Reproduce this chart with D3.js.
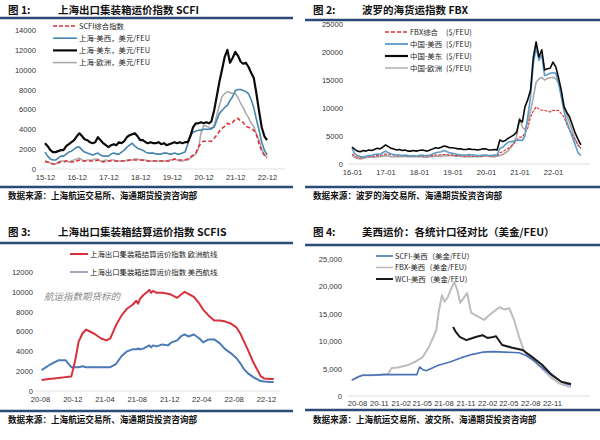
<!DOCTYPE html>
<html><head><meta charset="utf-8">
<script src="https://cdn.jsdelivr.net/npm/d3@7"></script>
<style>
body{margin:0;background:#fff;}
svg{display:block;font-family:"Noto Sans CJK SC","Noto Sans",sans-serif;}
.title{font-size:10.5px;font-weight:700;fill:#111;}
.src{font-size:8.6px;font-weight:700;fill:#111;}
.leg{font-size:7.4px;fill:#222;}
.tick text{font-family:"Liberation Sans",Arial,sans-serif;font-size:7.6px;fill:#333;}
</style></head><body>
<svg id="c" width="600" height="440"></svg>
<script>
// ---------- Panel 1: SCFI (monthly, 2015-12 .. 2022-12) ----------
const p1Start = "2015-12-01", p1StopExcl = "2023-01-01";
const p1XTicks = ["2015-12-01","2016-12-01","2017-12-01","2018-12-01","2019-12-01","2020-12-01","2021-12-01","2022-12-01"];
const p1XLabels = ["15-12","16-12","17-12","18-12","19-12","20-12","21-12","22-12"];
const p1YTicks = [0,2000,4000,6000,8000,10000,12000,14000];
const p1Composite = [700, 700,600,500,500,600,700,700,800,800,700,700,800, 900,800,800,800,800,800,800,900,800,700,800,800, 800,800,800,800,800,800,800,900,900,900,900,900, 900,800,800,800,800,800,800,800,800,800,800,900, 1000,900,900,900,900,1000,1200,1400,1600,2200,2600,2800, 2800,2800,2800,3100,3400,3800,4100,4300,4600,4500,4700,5000, 5100,4800,4700,4300,4200,4100,3900,3500,2500,1800,1400,1100];
const p1USWest = [1700, 1300,1000,900,900,1100,1300,1300,1500,1700,1800,2000,2200, 2200,1900,1700,1600,1500,1400,1500,1600,1400,1300,1300,1300, 1500,1600,1500,1500,1700,1900,2200,2400,2600,2300,2100,2000, 1900,1700,1600,1600,1600,1500,1500,1500,1600,1600,1500,1500, 1600,1500,1500,1600,1700,2500,3300,3700,3800,3900,3900,4000, 4000,4000,4100,4200,4900,5600,5900,6200,6400,6900,7300,7900, 8000,8000,7900,7800,7600,7000,6200,5000,3900,2700,1900,1400];
const p1USEast = [2600, 2300,1900,1700,1700,1800,1900,1900,2300,2500,2700,2900,3300, 3600,3300,3000,2900,2700,2600,2700,3200,2900,2600,2400,2200, 2400,2500,2400,2700,2600,2800,3200,3400,3500,3600,3300,2900, 2900,2700,2600,2700,2600,2600,2700,2500,2600,2400,2500,2600, 2700,2600,2700,2600,2700,2700,3300,4200,4600,4600,4700,4600, 4700,4600,4800,5900,7300,8800,10000,11300,12000,10700,11200,11800, 11400,10800,10600,10700,10300,9700,9200,7600,5800,4200,3300,2900];
const p1Europe = [900, 700,600,500,500,700,800,800,800,700,800,900,1000, 1100,900,800,900,900,900,1000,1000,800,800,900,800, 900,900,800,800,800,800,900,900,900,1000,1000,900, 900,900,800,800,800,800,800,800,800,800,900,900, 1000,900,800,800,900,900,1100,1300,1500,2000,3600,4400, 4300,4200,4000,4400,5400,6400,7300,7600,7800,7700,7600,7600, 7200,6600,6200,5600,5200,4600,4300,3500,2900,2000,1400,1200];

// ---------- Panel 2: FBX (monthly, 2016-01 .. 2022-11) ----------
const p2Start = "2016-01-01", p2StopExcl = "2022-12-01";
const p2XTicks = ["2016-01-01","2017-01-01","2018-01-01","2019-01-01","2020-01-01","2021-01-01","2022-01-01"];
const p2XLabels = ["16-01","17-01","18-01","19-01","20-01","21-01","22-01"];
const p2YTicks = [0,5000,10000,15000,20000,25000];
const p2Composite = [1800,1400,1200,1100,1200,1300,1300,1400,1400,1500,1500,1600, 1800,1700,1600,1600,1500,1500,1500,1500,1400,1400,1400,1400, 1400,1400,1400,1400,1500,1500,1600,1600,1700,1700,1700,1600, 1600,1500,1500,1500,1400,1400,1500,1400,1400,1400,1400,1400, 1500,1400,1400,1500,1500,2000,2200,2500,2800,3200,3700,4300, 4800,4800,5500,6400,8400,9500,10200,9800,9600,9600,9400,9300, 9600,9500,9600,9000,8400,7000,6100,5200,4300,3400,2700];
const p2USWest = [2800,1800,1500,1300,1300,1400,1500,1500,1700,1800,1700,2000, 2300,2000,1800,1700,1600,1600,1500,1600,1500,1400,1500,1400, 1500,1600,1500,1500,1600,1800,2000,2100,2200,2400,2200,2000, 1900,1800,1700,1600,1600,1600,1700,1600,1600,1500,1500,1600, 1600,1500,1500,1600,1600,2800,3000,3500,3900,4000,4100,4200, 4300,4200,5000,8500,12000,18000,20800,18500,19500,15800,16000,16200, 16300,16200,14500,12000,9500,7500,6100,4800,3400,2000,1500];
const p2USEast = [3000,2600,2300,2200,2400,2300,2500,2400,2600,2800,2700,3000, 3400,3100,2800,2700,2500,2600,2400,2500,2300,2300,2400,2300, 2400,2500,2400,2300,2500,2700,2900,2800,3000,3200,3100,2900, 2900,2800,2700,2700,2600,2600,2700,2600,2600,2500,2600,2700, 2700,2500,2500,2600,2500,4300,4000,4200,4600,4900,5200,5700, 7900,7500,10200,11500,13200,19100,21800,19100,20400,16800,17000,17100, 18200,17300,15500,13200,10200,9200,8400,6900,5500,4400,3400];
const p2Europe = [1500,1200,1000,900,1000,1100,1200,1200,1200,1300,1300,1400, 1500,1400,1300,1300,1300,1300,1300,1400,1300,1300,1300,1300, 1300,1300,1200,1200,1300,1300,1400,1400,1400,1500,1500,1500, 1500,1400,1400,1400,1300,1300,1300,1300,1300,1300,1300,1400, 1500,1400,1300,1300,1400,1500,1700,2000,2400,3000,3800,5000, 8200,6600,6100,7500,9500,12000,14600,15200,15500,15000,15300,15400, 15500,15200,14500,12700,10500,8800,7300,5800,4300,3400,2800];

// ---------- Panel 3: SCFIS ----------
const p3Dates = ["2020-08-07","2020-09-04","2020-10-09","2020-11-06","2020-11-27","2020-12-11","2020-12-25","2021-01-08","2021-01-22","2021-02-05","2021-02-26","2021-03-19","2021-04-09","2021-04-23","2021-05-14","2021-06-04","2021-06-25","2021-07-16","2021-07-30","2021-08-06","2021-08-13","2021-08-27","2021-09-10","2021-09-17","2021-09-24","2021-10-01","2021-10-15","2021-11-05","2021-11-26","2021-12-10","2021-12-31","2022-01-14","2022-01-28","2022-02-11","2022-03-04","2022-03-25","2022-04-08","2022-04-29","2022-05-20","2022-06-10","2022-07-01","2022-07-22","2022-08-12","2022-08-26","2022-09-09","2022-09-23","2022-10-14","2022-10-28","2022-11-11","2022-11-25","2022-12-16","2022-12-30"];
const p3Europe = [1100,1200,1300,1400,1450,3000,5000,5800,6200,6000,5700,5300,5100,5300,6600,7600,8300,8700,9100,8800,9300,9700,10000,10200,9900,10100,9900,9900,9800,9700,9400,9700,10000,9800,9500,8800,8200,7600,7100,7100,7000,6800,6400,5800,5000,4200,2900,2200,1500,1250,1200,1200];
const p3USWest = [2100,2600,3100,3100,2400,2400,2400,2500,2400,2400,2400,2400,2400,2400,2700,3500,4000,4200,4200,4300,4200,4300,4500,4600,4400,4600,4500,4700,4600,4900,5100,5500,5700,5500,5700,5300,4900,5200,5200,4800,4200,3800,3300,2800,2200,1800,1400,1200,1000,950,900,900];
const p3XTicks = ["2020-08-01","2020-12-01","2021-04-01","2021-08-01","2021-12-01","2022-04-01","2022-08-01","2022-12-01"];
const p3XLabels = ["20-08","20-12","21-04","21-08","21-12","22-04","22-08","22-12"];
const p3YTicks = [0,2000,4000,6000,8000,10000,12000];

// ---------- Panel 4: US West comparison ----------
const p4ScfiDates = ["2020-07-10","2020-08-07","2020-08-25","2020-10-01","2020-11-15","2020-12-25","2021-02-10","2021-03-20","2021-04-10","2021-04-22","2021-05-05","2021-05-20","2021-06-10","2021-07-10","2021-08-28","2021-10-15","2021-12-01","2022-01-12","2022-03-01","2022-04-15","2022-06-15","2022-07-15","2022-08-10","2022-09-05","2022-10-18","2022-11-30","2022-12-25","2023-01-20"];
const p4ScfiValues = [2900,3500,3800,3800,3900,3900,3900,3900,3900,5300,4800,4600,5000,5600,6200,7000,7600,8000,8100,8000,7900,7400,6700,5700,4200,2900,2300,2000];
const p4FbxDates = ["2020-07-10","2020-08-07","2020-08-25","2020-10-01","2020-11-15","2020-12-10","2020-12-25","2021-01-20","2021-03-01","2021-04-01","2021-05-05","2021-06-01","2021-07-01","2021-07-12","2021-07-25","2021-08-05","2021-08-18","2021-09-05","2021-09-15","2021-09-28","2021-10-10","2021-10-25","2021-11-08","2021-11-25","2021-12-10","2021-12-28","2022-01-20","2022-02-05","2022-02-25","2022-03-25","2022-04-15","2022-05-05","2022-05-25","2022-06-15","2022-07-05","2022-07-25","2022-08-15","2022-09-05","2022-10-01","2022-10-30","2022-12-01","2023-01-20"];
const p4FbxValues = [2900,3500,3800,3800,3900,4000,5100,5200,5600,6200,7100,9000,12000,15500,18400,17200,18000,19900,20800,19300,17000,17900,18800,15200,14800,14400,13900,14600,15300,16200,15800,16000,13900,10800,8400,7100,6500,5700,4500,3300,2300,1600];
const p4WciDates = ["2021-09-10","2021-09-20","2021-10-08","2021-11-05","2021-11-25","2021-12-18","2022-01-12","2022-02-02","2022-02-20","2022-03-10","2022-04-05","2022-05-18","2022-06-30","2022-08-10","2022-09-20","2022-10-30","2022-12-10","2023-01-20"];
const p4WciValues = [12600,11800,10800,10200,10500,10800,11100,10600,10700,10900,9300,8800,8400,7100,5700,3900,2600,2200];
const p4XTicks = ["2020-08-01","2020-11-01","2021-02-01","2021-05-01","2021-08-01","2021-11-01","2022-02-01","2022-05-01","2022-08-01","2022-11-01"];
const p4XLabels = ["20-08","20-11","21-02","21-05","21-08","21-11","22-02","22-05","22-08","22-11"];
const p4YTicks = [0,5000,10000,15000,20000,25000];

// ---------- drawing ----------
const svg = d3.select("#c");
const parse = d3.timeParse("%Y-%m-%d");
const RULE = "#2b4a78";
const p1Dates = d3.timeMonth.range(parse(p1Start), parse(p1StopExcl));
const p2Dates = d3.timeMonth.range(parse(p2Start), parse(p2StopExcl));

function drawPanel(c) {
  const g = svg.append("g");
  g.append("text").attr("class","title").attr("x", c.figX).attr("y", c.titleY).text(c.fig);
  g.append("text").attr("class","title").attr("x", c.titleX).attr("y", c.titleY).text(c.title);
  g.append("line").attr("x1", c.ruleX[0]).attr("x2", c.ruleX[1]).attr("y1", c.ruleTop).attr("y2", c.ruleTop)
    .attr("stroke", RULE).attr("stroke-width", 2.4);
  g.append("line").attr("x1", c.ruleX[0]).attr("x2", c.ruleX[1]).attr("y1", c.ruleBottom).attr("y2", c.ruleBottom)
    .attr("stroke", RULE).attr("stroke-width", 2.4);
  g.append("text").attr("class","src").attr("x", c.figX).attr("y", c.srcY).text(c.source);

  const x = d3.scaleTime().domain(c.xDomain.map(parse)).range(c.xRange);
  const y = d3.scaleLinear().domain(c.yDomain).range(c.yRange);

  g.append("line").attr("x1", c.plotX[0]).attr("x2", c.plotX[1])
    .attr("y1", y(0)).attr("y2", y(0)).attr("stroke", "#d9d9d9").attr("stroke-width", 0.8);

  const ya = g.append("g").attr("transform", `translate(${c.yAxisX},0)`)
    .call(d3.axisLeft(y).tickValues(c.yTicks).tickSize(0).tickPadding(2).tickFormat(c.yFormat || d3.format("d")));
  ya.select(".domain").remove();

  const xa = g.append("g").attr("transform", `translate(0,${y(0)})`)
    .call(d3.axisBottom(x).tickValues(c.xTicks.map(parse)).tickSize(0).tickPadding(c.xPad)
      .tickFormat((d, i) => c.xLabels[i]));
  xa.select(".domain").remove();

  c.series.forEach(s => {
    const pts = s.dates.map((d, i) => [d instanceof Date ? d : parse(d), s.values[i]]);
    const line = d3.line().x(p => x(p[0])).y(p => y(p[1]));
    g.append("path").attr("d", line(pts)).attr("fill", "none")
      .attr("stroke", s.color).attr("stroke-width", s.width)
      .attr("stroke-dasharray", s.dash || null).attr("stroke-linejoin", "round");
  });

  c.legend.forEach((l, i) => {
    const ly = c.legY + i * c.legDy;
    g.append("line").attr("x1", c.legX[0]).attr("x2", c.legX[1]).attr("y1", ly).attr("y2", ly)
      .attr("stroke", l.color).attr("stroke-width", l.width).attr("stroke-dasharray", l.dash || null);
    g.append("text").attr("class","leg").attr("x", c.legX[1] + 2).attr("y", ly + 2.6)
      .attr("font-size", c.legFont || null).text(l.label);
    if (l.suffix) g.append("text").attr("class","leg").attr("x", c.suffixX).attr("y", ly + 2.6)
      .attr("font-size", c.legFont || null).text(l.suffix);
  });
  return g;
}

const cRed = "#e0303a", cTeal = "#4584ad", cGray = "#ababab", cBlack = "#0a0a0a";

drawPanel({
  fig: "图 1:", title: "上海出口集装箱运价指数 SCFI", figX: 8, titleX: 58, titleY: 14,
  ruleX: [0, 293], ruleTop: 18, ruleBottom: 187, srcY: 199,
  source: "数据来源：上海航运交易所、海通期货投资咨询部",
  xDomain: ["2015-12-01", "2022-12-01"], xRange: [45, 267],
  yDomain: [0, 14000], yRange: [169, 30], plotX: [40, 285],
  yTicks: p1YTicks, yAxisX: 38, xTicks: p1XTicks, xLabels: p1XLabels, xPad: 6,
  series: [
    { dates: p1Dates, values: p1Europe, color: cGray, width: 1.6 },
    { dates: p1Dates, values: p1USWest, color: cTeal, width: 1.6 },
    { dates: p1Dates, values: p1Composite, color: cRed, width: 1.6, dash: "4,2.5" },
    { dates: p1Dates, values: p1USEast, color: cBlack, width: 2.2 }
  ],
  legX: [53, 77], legY: 26, legDy: 12.2,
  legend: [
    { label: "SCFI综合指数", color: cRed, width: 1.6, dash: "4,2" },
    { label: "上海-美西，美元/FEU", color: cTeal, width: 1.6 },
    { label: "上海-美东，美元/FEU", color: cBlack, width: 2.2 },
    { label: "上海-欧洲，美元/FEU", color: cGray, width: 1.6 }
  ]
});

drawPanel({
  fig: "图 2:", title: "波罗的海货运指数 FBX", figX: 313, titleX: 362, titleY: 14,
  ruleX: [305, 600], ruleTop: 20, ruleBottom: 187, srcY: 199,
  source: "数据来源：波罗的海交易所、海通期货投资咨询部",
  xDomain: ["2016-01-01", "2022-01-01"], xRange: [352, 553],
  yDomain: [0, 25000], yRange: [164, 24], plotX: [348, 590],
  yTicks: p2YTicks, yAxisX: 345, xTicks: p2XTicks, xLabels: p2XLabels, xPad: 6,
  series: [
    { dates: p2Dates, values: p2Europe, color: "#a8a8a8", width: 1.6 },
    { dates: p2Dates, values: p2Composite, color: "#e03030", width: 1.1, dash: "3,1.2" },
    { dates: p2Dates, values: p2USWest, color: "#5d9cc8", width: 1.6 },
    { dates: p2Dates, values: p2USEast, color: cBlack, width: 1.6 }
  ],
  legX: [385, 408], legY: 32, legDy: 12, suffixX: 446, legFont: 7,
  legend: [
    { label: "FBX综合", suffix: "($/FEU)", color: "#e03030", width: 1.4, dash: "4,2" },
    { label: "中国-美西", suffix: "($/FEU)", color: "#5d9cc8", width: 1.8 },
    { label: "中国-美东", suffix: "($/FEU)", color: cBlack, width: 2.2 },
    { label: "中国-欧洲", suffix: "($/FEU)", color: "#a8a8a8", width: 1.4 }
  ]
});

const g3 = drawPanel({
  fig: "图 3:", title: "上海出口集装箱结算运价指数 SCFIS", figX: 8, titleX: 58, titleY: 236,
  ruleX: [0, 293], ruleTop: 243, ruleBottom: 411, srcY: 423,
  source: "数据来源：上海航运交易所、海通期货投资咨询部",
  xDomain: ["2020-08-01", "2022-12-01"], xRange: [40, 266],
  yDomain: [0, 12000], yRange: [391, 272], plotX: [36, 280],
  yTicks: p3YTicks, yAxisX: 35, xTicks: p3XTicks, xLabels: p3XLabels, xPad: 6,
  series: [
    { dates: p3Dates, values: p3USWest, color: "#4a7ab8", width: 2 },
    { dates: p3Dates, values: p3Europe, color: "#d7313b", width: 2 }
  ],
  legX: [70, 88], legY: 254, legDy: 18,
  legend: [
    { label: "上海出口集装箱结算运价指数 欧洲航线", color: "#d7313b", width: 2 },
    { label: "上海出口集装箱结算运价指数 美西航线", color: "#5a6f8e", width: 1.2 }
  ]
});
g3.append("text").attr("x", 44).attr("y", 300).attr("font-size", 9.5).attr("font-style", "italic")
  .attr("fill", "#8a8a8a").text("航运指数期货标的");

drawPanel({
  fig: "图 4:", title: "美西运价：各统计口径对比（美金/FEU）", figX: 313, titleX: 362, titleY: 236,
  ruleX: [305, 600], ruleTop: 245, ruleBottom: 410, srcY: 423,
  source: "数据来源：上海航运交易所、波交所、海通期货投资咨询部",
  xDomain: ["2020-08-01", "2022-11-01"], xRange: [357, 552],
  yDomain: [0, 25000], yRange: [396, 259], plotX: [348, 590],
  yTicks: p4YTicks, yAxisX: 344, yFormat: d3.format(","), xTicks: p4XTicks, xLabels: p4XLabels, xPad: 5,
  series: [
    { dates: p4FbxDates, values: p4FbxValues, color: "#bdbdbd", width: 2 },
    { dates: p4ScfiDates, values: p4ScfiValues, color: "#4a72b8", width: 1.6 },
    { dates: p4WciDates, values: p4WciValues, color: "#1a1a1a", width: 2 }
  ],
  legX: [376, 393], legY: 256, legDy: 11.5,
  legend: [
    { label: "SCFI-美西（美金/FEU）", color: "#4a72b8", width: 1.6 },
    { label: "FBX-美西（美金/FEU）", color: "#bdbdbd", width: 1.6 },
    { label: "WCI-美西（美金/FEU）", color: "#1a1a1a", width: 2 }
  ]
});
</script>
</body></html>
